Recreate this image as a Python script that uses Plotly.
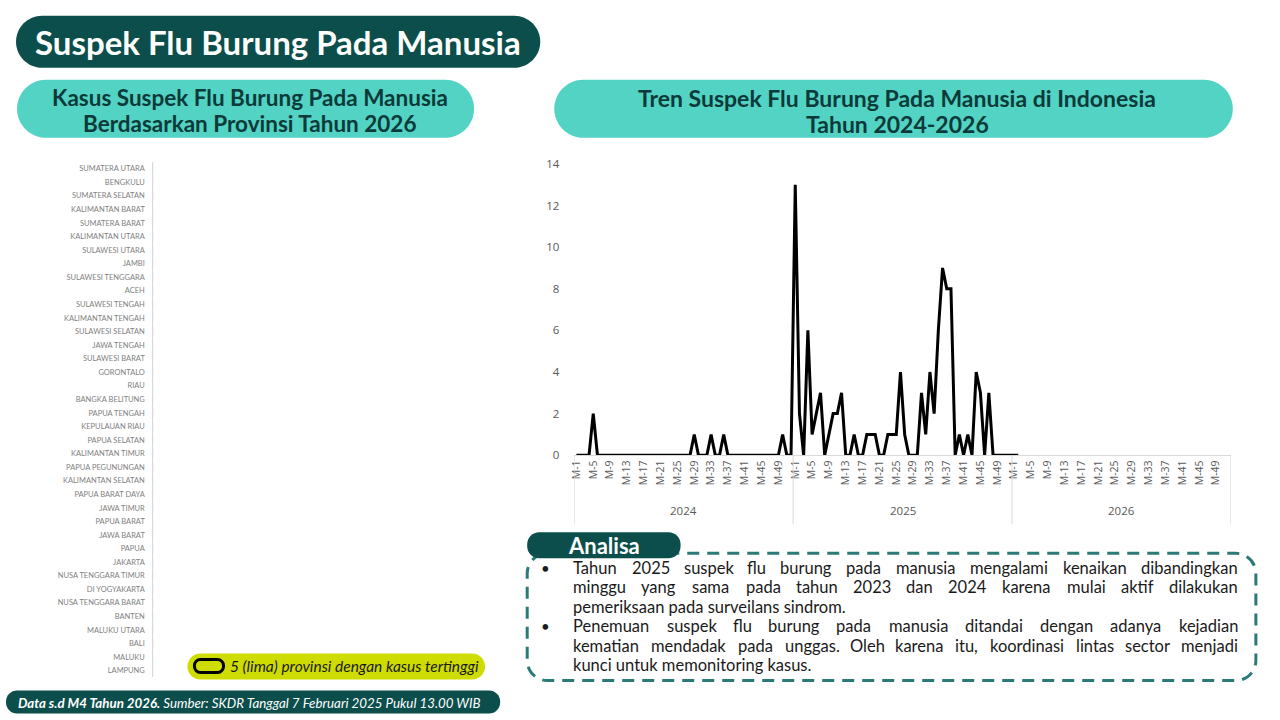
import plotly.graph_objects as go

W, H = 1280, 720
# the photographed page maps figure pixels to picture pixels slightly
# (measured: pic_x = 7 + 0.9938*x, pic_y = 8.3 + 0.978*y); layout numbers
# below are picture pixels and are converted back with these constants.
SX, OX = 0.9938, 7.0
SY, OY = 0.978, 8.3

# ---------------- data ----------------
provinces = [
    "SUMATERA UTARA", "BENGKULU", "SUMATERA SELATAN", "KALIMANTAN BARAT", "SUMATERA BARAT",
    "KALIMANTAN UTARA", "SULAWESI UTARA", "JAMBI", "SULAWESI TENGGARA", "ACEH",
    "SULAWESI TENGAH", "KALIMANTAN TENGAH", "SULAWESI SELATAN", "JAWA TENGAH", "SULAWESI BARAT",
    "GORONTALO", "RIAU", "BANGKA BELITUNG", "PAPUA TENGAH", "KEPULAUAN RIAU",
    "PAPUA SELATAN", "KALIMANTAN TIMUR", "PAPUA PEGUNUNGAN", "KALIMANTAN SELATAN", "PAPUA BARAT DAYA",
    "JAWA TIMUR", "PAPUA BARAT", "JAWA BARAT", "PAPUA", "JAKARTA",
    "NUSA TENGGARA TIMUR", "DI YOGYAKARTA", "NUSA TENGGARA BARAT", "BANTEN", "MALUKU UTARA",
    "BALI", "MALUKU", "LAMPUNG",
]
province_cases = [0, 0, 0, 0, 0, 0, 0, 0, 0, 0,
                  0, 0, 0, 0, 0, 0, 0, 0, 0, 0,
                  0, 0, 0, 0, 0, 0, 0, 0, 0, 0,
                  0, 0, 0, 0, 0, 0, 0, 0]

years = ["2024", "2025", "2026"]
weeks_per_year = 52
week_labels = ["M-%d" % w for w in range(1, weeks_per_year + 1)]
tick_every = 4

cases_2024 = [0, 0, 0, 0, 2, 0, 0, 0, 0, 0,
              0, 0, 0, 0, 0, 0, 0, 0, 0, 0,
              0, 0, 0, 0, 0, 0, 0, 0, 1, 0,
              0, 0, 1, 0, 0, 1, 0, 0, 0, 0,
              0, 0, 0, 0, 0, 0, 0, 0, 0, 1,
              0, 0]
cases_2025 = [13, 2, 0, 6, 1, 2, 3, 0, 1, 2,
              2, 3, 0, 0, 1, 0, 0, 1, 1, 1,
              0, 0, 1, 1, 1, 4, 1, 0, 0, 0,
              3, 1, 4, 2, 6, 9, 8, 8, 0, 1,
              0, 1, 0, 4, 3, 0, 3, 0, 0, 0,
              0, 0]
cases_2026 = [0, 0]

# (bullet, text, justified)
analisa_lines = [
    (True, "Tahun 2025 suspek flu burung pada manusia mengalami kenaikan dibandingkan", True),
    (False, "minggu yang sama pada tahun 2023 dan 2024 karena mulai aktif dilakukan", True),
    (False, "pemeriksaan pada surveilans sindrom.", False),
    (True, "Penemuan suspek flu burung pada manusia ditandai dengan adanya kejadian", True),
    (False, "kematian mendadak pada unggas. Oleh karena itu, koordinasi lintas sector menjadi", True),
    (False, "kunci untuk memonitoring kasus.", False),
]

# ---------------- helpers ----------------
DARK = "#0b4e4b"
TEAL = "#52d3c4"
LIME = "#cfdc00"
TXT_DARK = "#0b3a38"
FONT = "Lato"


def px(x):
    return ((x - OX) / SX) / W


def py(y):
    return 1 - ((y - OY) / SY) / H


def rrect(x0, y0, x1, y1, r):
    k = 0.5523 * r
    pts = [
        "M %.5f,%.5f" % (px(x0 + r), py(y0)),
        "L %.5f,%.5f" % (px(x1 - r), py(y0)),
        "C %.5f,%.5f %.5f,%.5f %.5f,%.5f" % (px(x1 - r + k), py(y0), px(x1), py(y0 + r - k), px(x1), py(y0 + r)),
        "L %.5f,%.5f" % (px(x1), py(y1 - r)),
        "C %.5f,%.5f %.5f,%.5f %.5f,%.5f" % (px(x1), py(y1 - r + k), px(x1 - r + k), py(y1), px(x1 - r), py(y1)),
        "L %.5f,%.5f" % (px(x0 + r), py(y1)),
        "C %.5f,%.5f %.5f,%.5f %.5f,%.5f" % (px(x0 + r - k), py(y1), px(x0), py(y1 - r + k), px(x0), py(y1 - r)),
        "L %.5f,%.5f" % (px(x0), py(y0 + r)),
        "C %.5f,%.5f %.5f,%.5f %.5f,%.5f" % (px(x0), py(y0 + r - k), px(x0 + r - k), py(y0), px(x0 + r), py(y0)),
        "Z",
    ]
    return " ".join(pts)


shapes = []
annotations = []


def box(x0, y0, x1, y1, r, fill=None, line_color=None, line_width=0, dash="solid"):
    shapes.append(dict(
        type="path", xref="paper", yref="paper", path=rrect(x0, y0, x1, y1, r),
        fillcolor=fill if fill else "rgba(0,0,0,0)",
        line=dict(color=line_color if line_color else "rgba(0,0,0,0)", width=line_width, dash=dash),
        layer="above",
    ))


def text(x, y, s, size, color, bold=False, xanchor="center", family=FONT, pad=1):
    annotations.append(dict(
        x=px(x), y=py(y), xref="paper", yref="paper", text=("<b>%s</b>" % s) if bold else s,
        showarrow=False, xanchor=xanchor, yanchor="middle", borderpad=pad,
        font=dict(family=family, size=size, color=color), align="left",
    ))


# approximate advance widths (em) used only to spread words of justified lines
CHAR_W = {}
for ch in "ijl": CHAR_W[ch] = 0.23
for ch in "ft": CHAR_W[ch] = 0.33
CHAR_W["r"] = 0.36
for ch in "sz": CHAR_W[ch] = 0.43
CHAR_W["c"] = 0.46
for ch in "aegkvxy": CHAR_W[ch] = 0.50
for ch in "bdhnopqu": CHAR_W[ch] = 0.55
CHAR_W["m"] = 0.83
CHAR_W["w"] = 0.75
for ch in "0123456789": CHAR_W[ch] = 0.55
for ch in ".,": CHAR_W[ch] = 0.22


def word_w(wd, size):
    return sum(CHAR_W.get(c, 0.60) for c in wd) * size * 1.03


def justified(x0, x1, y, s, size, color):
    words = s.split(" ")
    widths = [word_w(wd, size) for wd in words]
    gap = (x1 - x0 - sum(widths)) / (len(words) - 1)
    cur = x0
    for i, (wd, wdw) in enumerate(zip(words, widths)):
        if i == len(words) - 1:
            text(x1, y, wd, size, color, xanchor="right", pad=0)
        elif i == 0:
            text(x0, y, wd, size, color, xanchor="left", pad=0)
        else:
            text(cur + wdw / 2, y, wd, size, color, xanchor="center", pad=0)
        cur += wdw + gap


# ---------------- traces ----------------
fig = go.Figure()

fig.add_trace(go.Bar(
    x=province_cases, y=provinces, orientation="h",
    marker_color="#2f5597", xaxis="x", yaxis="y", showlegend=False,
))

all_cases = cases_2024 + cases_2025 + cases_2026
x_idx = list(range(len(all_cases)))
fig.add_trace(go.Scatter(
    x=x_idx, y=all_cases, mode="lines",
    line=dict(color="black", width=3), xaxis="x2", yaxis="y2",
    showlegend=False, cliponaxis=False,
))

n_total = len(years) * weeks_per_year
tickvals, ticktext = [], []
for yi, _ in enumerate(years):
    for wi, lab in enumerate(week_labels):
        if wi % tick_every == 0:
            tickvals.append(yi * weeks_per_year + wi)
            ticktext.append(lab)

# year group dividers and labels
for yi in range(len(years) + 1):
    shapes.append(dict(type="line", xref="x2", yref="paper",
                       x0=yi * weeks_per_year - 0.5, x1=yi * weeks_per_year - 0.5,
                       y0=py(455), y1=py(524), line=dict(color="#d9d9d9", width=1)))
for yi, yr in enumerate(years):
    annotations.append(dict(x=yi * weeks_per_year + (weeks_per_year - 1) / 2, y=py(510),
                            xref="x2", yref="paper", text=yr, showarrow=False, yanchor="middle",
                            font=dict(family="Open Sans", size=11.5, color="#595959")))

# ---------------- decorations ----------------
box(18, 16, 541, 68, 26, fill=DARK)
text(279, 42, "Suspek Flu Burung Pada Manusia", 33, "white", bold=True, xanchor="center")

box(19, 80, 475, 138, 29, fill=TEAL)
text(251, 98, "Kasus Suspek Flu Burung Pada Manusia", 22.5, TXT_DARK, bold=True)
text(251, 124, "Berdasarkan Provinsi Tahun 2026", 22.5, TXT_DARK, bold=True)

box(555, 80, 1232, 138, 29, fill=TEAL)
text(897, 98, "Tren Suspek Flu Burung Pada Manusia di Indonesia", 23, TXT_DARK, bold=True)
text(897, 124, "Tahun 2024-2026", 23, TXT_DARK, bold=True)

# legend note
box(189, 653, 486, 679, 13, fill=LIME)
box(196, 659, 225, 672, 6, line_color="black", line_width=3)
text(229, 666, "<i>5 (lima) provinsi dengan kasus tertinggi</i>", 15.5, "#1a1a1a", xanchor="left")

# footer
box(8, 690, 501, 713, 11, fill=DARK)
text(18, 702, "<b><i>Data s.d M4 Tahun 2026.</i></b><i> Sumber: SKDR Tanggal 7 Februari 2025 Pukul 13.00 WIB</i>",
     13.3, "white", xanchor="left")

# analisa
box(528, 553, 1255, 680, 20, line_color="#2b7a77", line_width=3, dash="12px,8px")
box(528, 532, 681, 558, 12, fill=DARK)
text(605, 545, "Analisa", 22, "white", bold=True)
line_y = [568, 587, 607, 626, 646, 665]
BODY_SIZE = 16.5
for (bullet, s, just), yy in zip(analisa_lines, line_y):
    if bullet:
        text(546, yy, "•", 15, "#1a1a1a", pad=0)
    if just:
        justified(573, 1238, yy, s, BODY_SIZE, "#1a1a1a")
    else:
        text(573, yy, s, BODY_SIZE, "#1a1a1a", xanchor="left", pad=0)

# ---------------- layout ----------------
fig.update_layout(
    width=W, height=H, autosize=False,
    margin=dict(l=0, r=0, t=0, b=0, pad=0),
    paper_bgcolor="white", plot_bgcolor="rgba(0,0,0,0)",
    showlegend=False,
    xaxis=dict(domain=[px(155), px(480)], range=[0, 1], visible=False),
    yaxis=dict(domain=[py(677), py(162)], type="category", autorange="reversed",
               showline=True, linecolor="#d9d9d9", linewidth=1, ticks="", showgrid=False,
               tickfont=dict(family=FONT, size=7.5, color="#7f7f7f"), ticklabelstandoff=6),
    xaxis2=dict(domain=[px(575), px(1230)], range=[-0.5, n_total - 0.5], anchor="y2",
                tickmode="array", tickvals=tickvals, ticktext=ticktext, tickangle=-90,
                showline=True, linecolor="#d9d9d9", linewidth=1, ticks="", showgrid=False, zeroline=False,
                tickfont=dict(family="Open Sans", size=10.5, color="#595959")),
    yaxis2=dict(domain=[py(455), py(164)], range=[0, 14], dtick=2, anchor="x2",
                showline=False, showgrid=False, zeroline=False, ticks="",
                tickfont=dict(family="Open Sans", size=11.5, color="#595959"), ticklabelstandoff=14),
    shapes=shapes, annotations=annotations,
)

fig.write_html("out.html", config={"displayModeBar": False},
               post_script="document.body.style.margin='0';document.body.style.overflow='hidden';")
